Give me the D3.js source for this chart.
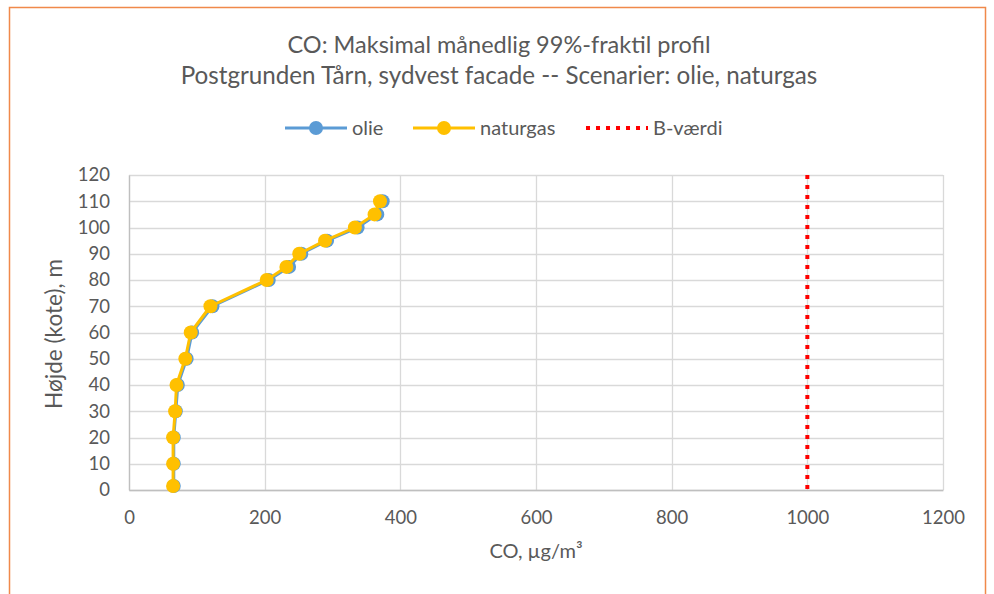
<!DOCTYPE html>
<html>
<head>
<meta charset="utf-8">
<script src="https://cdn.jsdelivr.net/npm/d3@7"></script>
<style>
  html, body { margin: 0; padding: 0; background: #fff; }
  svg { display: block; font-family: Lato, "Open Sans", sans-serif; }
</style>
</head>
<body>
<svg id="chart" width="994" height="594"></svg>
<script>
// Height levels (m) and CO concentrations (µg/m³) for each fuel scenario
const heights  = [1.5, 10, 20, 30, 40, 50, 60, 70, 80, 85, 90, 95, 100, 105, 110];
const olie     = [66, 66, 66, 69, 72, 85, 93, 123, 206, 236, 254, 292, 337, 366, 374];
const naturgas = [65, 65, 65, 68, 70, 83, 91, 120, 203, 232, 251, 289, 333, 362, 370];
const bValue = 1000;                       // limit value
const bHeights = [0, 120];
const xTicks = [0, 200, 400, 600, 800, 1000, 1200];
const yTicks = [0, 10, 20, 30, 40, 50, 60, 70, 80, 90, 100, 110, 120];
const titleLines = ["CO: Maksimal månedlig 99%-fraktil profil",
                    "Postgrunden Tårn, sydvest facade -- Scenarier: olie, naturgas"];
const xLabel = "CO, µg/m³";
const yLabel = "Højde (kote), m";

const series = [
  { name: "olie", values: olie, color: "#5B9BD5" },
  { name: "naturgas", values: naturgas, color: "#FFC000" }
];

const svg = d3.select("#chart");
const textColor = "#595959";
const gridColor = "#D9D9D9";

// outer chart frame
svg.append("rect")
  .attr("x", 9.5).attr("y", 7.5).attr("width", 976).attr("height", 600)
  .attr("fill", "#fff").attr("stroke", "#F0894A").attr("stroke-width", 1.5);

const plot = { left: 129, right: 943, top: 175, bottom: 490 };
const x = d3.scaleLinear().domain([0, 1200]).range([plot.left, plot.right]);
const y = d3.scaleLinear().domain([0, 120]).range([plot.bottom, plot.top]);

// title
svg.append("g").selectAll("text").data(titleLines).join("text")
  .attr("x", 499).attr("y", (d, i) => 53 + i * 31)
  .attr("text-anchor", "middle")
  .attr("font-size", (d, i) => i === 0 ? 23.5 : 24.2).attr("fill", textColor)
  .text(d => d);

// gridlines
const grid = svg.append("g");
grid.selectAll("line.h").data(yTicks).join("line").attr("class", "h")
  .attr("x1", plot.left).attr("x2", plot.right)
  .attr("y1", d => Math.round(y(d)) + 0.5).attr("y2", d => Math.round(y(d)) + 0.5)
  .attr("stroke", gridColor).attr("stroke-width", 1.3);
grid.selectAll("line.v").data(xTicks).join("line").attr("class", "v")
  .attr("y1", plot.top).attr("y2", plot.bottom)
  .attr("x1", d => Math.round(x(d)) + 0.5).attr("x2", d => Math.round(x(d)) + 0.5)
  .attr("stroke", gridColor).attr("stroke-width", 1.3);

// axes
const fmt = d3.format("d");
const xAxis = svg.append("g").attr("transform", `translate(0,${plot.bottom})`)
  .call(d3.axisBottom(x).tickValues(xTicks).tickFormat(fmt).tickSize(0).tickPadding(21));
const yAxis = svg.append("g").attr("transform", `translate(${plot.left},0)`)
  .call(d3.axisLeft(y).tickValues(yTicks).tickFormat(fmt).tickSize(0).tickPadding(19));
[xAxis, yAxis].forEach(g => {
  g.select(".domain").attr("stroke", "#BFBFBF").attr("stroke-width", 1.3);
  g.selectAll("text").attr("font-size", 18.5).attr("fill", textColor)
    .attr("font-family", "Lato, 'Open Sans', sans-serif");
});

// axis titles
svg.append("text").attr("x", 536).attr("y", 558)
  .attr("text-anchor", "middle").attr("font-size", 20).attr("fill", textColor)
  .text(xLabel);
const yTitle = svg.append("text")
  .attr("transform", `translate(62,334) rotate(-90)`)
  .attr("text-anchor", "middle").attr("font-size", 20).attr("fill", textColor)
  .text(yLabel);
// size the vertical title to span roughly 150px
const yLen = yTitle.node().getComputedTextLength();
if (yLen > 0) yTitle.attr("font-size", Math.min(24, 20 * 150 / yLen));

// limit value line
svg.append("line")
  .attr("x1", x(bValue)).attr("x2", x(bValue))
  .attr("y1", y(bHeights[1])).attr("y2", y(bHeights[0]))
  .attr("stroke", "#FF0000").attr("stroke-width", 4)
  .attr("stroke-dasharray", "4 6");

// profile series
const line = d3.line().x(d => x(d[0])).y(d => y(d[1]));
series.forEach(s => {
  const pts = s.values.map((v, i) => [v, heights[i]]);
  const g = svg.append("g");
  g.append("path").datum(pts).attr("d", line)
    .attr("fill", "none").attr("stroke", s.color).attr("stroke-width", 3)
    .attr("stroke-linejoin", "round");
  g.selectAll("circle").data(pts).join("circle")
    .attr("cx", d => x(d[0])).attr("cy", d => y(d[1])).attr("r", 7)
    .attr("fill", s.color);
});

// legend
const legend = svg.append("g").attr("transform", "translate(0,128)");
const legendItems = [
  { name: "olie", color: "#5B9BD5", x0: 285, type: "marker" },
  { name: "naturgas", color: "#FFC000", x0: 413, type: "marker" },
  { name: "B-værdi", color: "#FF0000", x0: 586, type: "dots" }
];
legendItems.forEach(it => {
  if (it.type === "marker") {
    legend.append("line").attr("x1", it.x0).attr("x2", it.x0 + 62)
      .attr("stroke", it.color).attr("stroke-width", 3);
    legend.append("circle").attr("cx", it.x0 + 31).attr("r", 7).attr("fill", it.color);
  } else {
    legend.append("line").attr("x1", it.x0).attr("x2", it.x0 + 62)
      .attr("stroke", it.color).attr("stroke-width", 4).attr("stroke-dasharray", "4 6");
  }
  legend.append("text").attr("x", it.x0 + 67).attr("y", 7)
    .attr("font-size", 20).attr("fill", textColor).text(it.name);
});
</script>
</body>
</html>
